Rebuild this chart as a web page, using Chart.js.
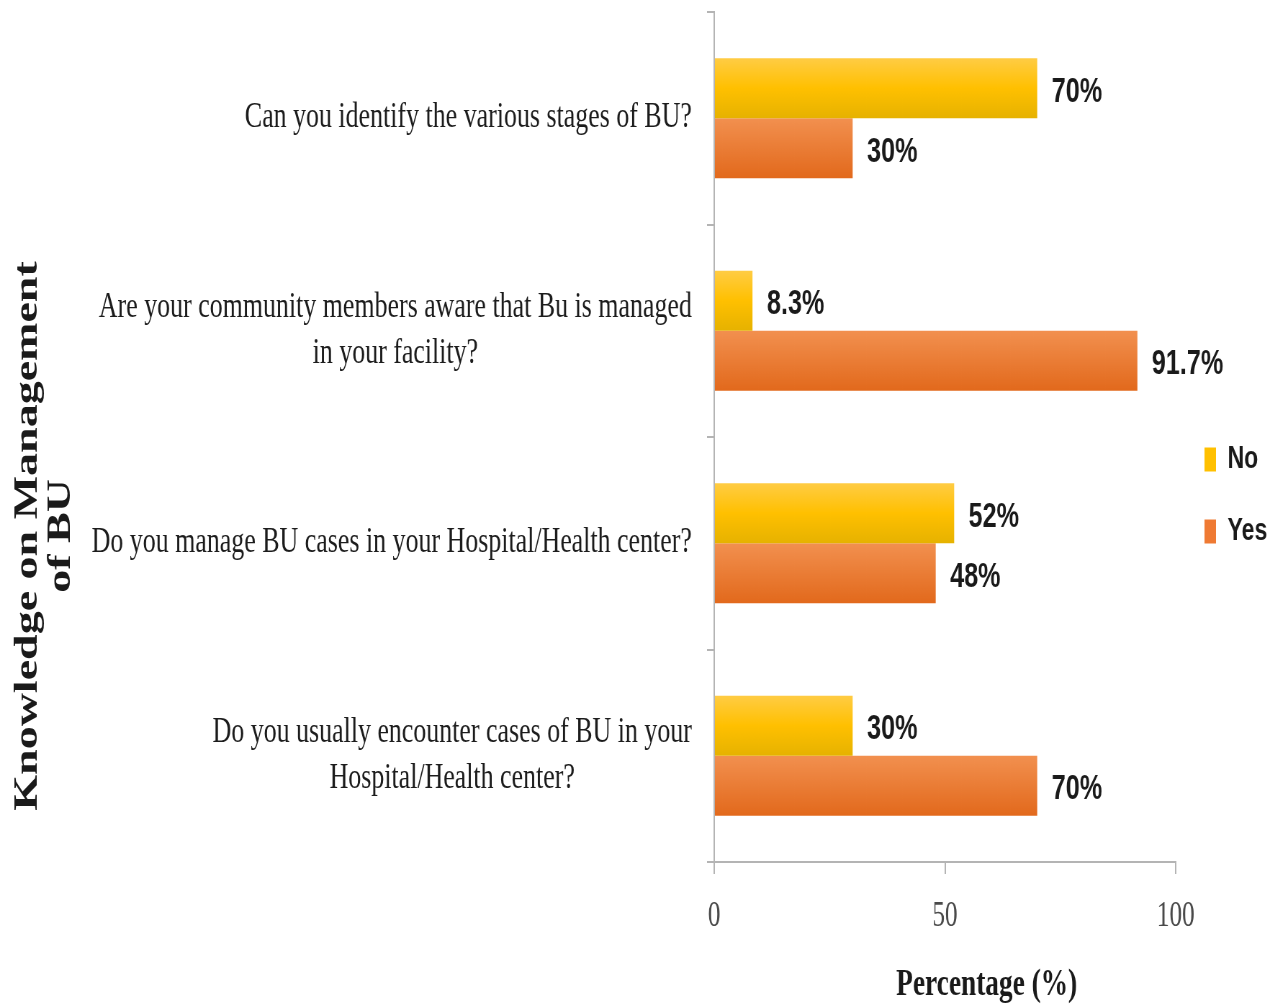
<!DOCTYPE html>
<html>
<head>
<meta charset="utf-8">
<script src="https://cdn.jsdelivr.net/npm/chart.js@4"></script>
<style>
  html, body { margin: 0; padding: 0; background: #fff; overflow: hidden; }
</style>
</head>
<body>
<!-- the reference is squeezed sideways, so draw wide and show it narrow -->
<canvas id="chart" width="1764" height="1005" style="display:block;width:1270px;height:1005px;"></canvas>
<script>
// Knowledge on Management of BU — grouped horizontal bars

const categories = [
    ['Can you identify the various stages of BU?'],
    ['Are your community members aware that Bu is managed', 'in your facility?'],
    ['Do you manage BU cases in your Hospital/Health center?'],
    ['Do you usually encounter cases of BU in your', 'Hospital/Health center?'],
];
const seriesNames = ['No', 'Yes'];
const noValues  = [70, 8.3, 52, 30];
const yesValues = [30, 91.7, 48, 70];
const xTicks = [0, 50, 100];

const SERIF = '"Liberation Serif", "Times New Roman", serif';
const NARROW = '"Liberation Sans Narrow", "Arial Narrow", "Liberation Sans", sans-serif';
const AXIS_GREY = '#b4b4b4';
const CAT_PCT = 0.565;
const LEGEND_FILL = ['#FFC000', '#EF7A33'];

// bar fill: vertical gradient per bar, taken from the y scale
function barFill(stops, solid) {
    return (ctx) => {
        if (ctx.type !== 'data') return solid;
        const ys = ctx.chart.scales.y;
        if (!ys || !isFinite(ys.height)) return solid;
        const c = ys.getPixelForValue(ctx.dataIndex);
        const half = ys.height / categories.length * CAT_PCT / 2;
        const top = ctx.datasetIndex === 0 ? c - half : c;
        const g = ctx.chart.ctx.createLinearGradient(0, top, 0, top + half);
        stops.forEach(([p, col]) => g.addColorStop(p, col));
        return g;
    };
}

const valueLabels = {
    id: 'valueLabels',
    afterDatasetsDraw(chart) {
        const { ctx } = chart;
        ctx.save();
        ctx.font = 'bold 35px ' + NARROW;
        ctx.fillStyle = '#1a1a1a';
        ctx.textAlign = 'left';
        ctx.textBaseline = 'middle';
        chart.data.datasets.forEach((ds, di) => {
            chart.getDatasetMeta(di).data.forEach((bar, i) => {
                ctx.fillText(ds.data[i] + '%', bar.x + 20, bar.y + 4);
            });
        });
        ctx.restore();
    }
};

const axisText = {
    id: 'axisText',
    afterDraw(chart) {
        const { ctx } = chart;
        const ys = chart.scales.y;
        const xs = chart.scales.x;
        ctx.save();

        // category labels: block right-aligned, lines centred inside the block
        ctx.font = '36px ' + SERIF;
        ctx.fillStyle = '#1c1c1c';
        ctx.textAlign = 'center';
        ctx.textBaseline = 'alphabetic';
        const labelRight = ys.right - 31;
        categories.forEach((lines, i) => {
            const c = ys.getPixelForValue(i);
            const w = Math.max(...lines.map(l => ctx.measureText(l).width));
            const cx = labelRight - w / 2;
            lines.forEach((l, k) => {
                ctx.fillText(l, cx, c + (k - (lines.length - 1) / 2) * 46 + 9);
            });
        });

        // x title
        ctx.font = 'bold 38px ' + SERIF;
        ctx.fillStyle = '#1a1a1a';
        ctx.fillText('Percentage (%)', (xs.left + xs.right) / 2 + 58, 995);

        // y title, two lines, rotated
        ctx.font = 'bold 46px ' + SERIF;
        ctx.translate(0, 536);
        ctx.rotate(-Math.PI / 2);
        ctx.fillText('Knowledge on Management', 0, 51);
        ctx.fillText('of BU', 0, 97);
        ctx.restore();
    }
};

new Chart(document.getElementById('chart'), {
    type: 'bar',
    data: {
        labels: categories,
        datasets: [
            {
                label: seriesNames[0],
                data: noValues,
                backgroundColor: barFill([[0, '#FFCC44'], [0.5, '#FFC000'], [1, '#E6B200']], LEGEND_FILL[0]),
                borderWidth: 0,
            },
            {
                label: seriesNames[1],
                data: yesValues,
                backgroundColor: barFill([[0, '#F2904F'], [1, '#E2691C']], LEGEND_FILL[1]),
                borderWidth: 0,
            },
        ]
    },
    options: {
        indexAxis: 'y',
        responsive: false,
        animation: false,
        devicePixelRatio: 1,
        categoryPercentage: CAT_PCT,
        barPercentage: 1,
        layout: { padding: { top: 12, bottom: 26, left: 0, right: 0 } },
        scales: {
            x: {
                min: 0, max: 100,
                afterBuildTicks: (s) => { s.ticks = xTicks.map(v => ({ value: v })); },
                afterFit: (s) => { s.height = 117; },
                grid: { drawOnChartArea: false, color: AXIS_GREY, lineWidth: 2, tickLength: 12 },
                border: { color: AXIS_GREY, width: 2 },
                ticks: { font: { family: SERIF, size: 35 }, color: '#4a4a4a', padding: 22, maxRotation: 0 },
            },
            y: {
                afterFit: (s) => { s.width = 992; },
                grid: { drawOnChartArea: false, color: AXIS_GREY, lineWidth: 2, tickLength: 10 },
                border: { color: AXIS_GREY, width: 2 },
                ticks: { display: false },
            },
        },
        plugins: {
            legend: {
                position: 'right',
                maxWidth: 131,
                labels: {
                    boxWidth: 16,
                    boxHeight: 24,
                    padding: 40,
                    color: '#1a1a1a',
                    font: { family: NARROW, size: 32, weight: 'bold' },
                    generateLabels: (chart) =>
                        Chart.defaults.plugins.legend.labels.generateLabels(chart)
                            .map((item, i) => Object.assign(item, { fillStyle: LEGEND_FILL[i] })),
                }
            },
            tooltip: { enabled: false },
        }
    },
    plugins: [valueLabels, axisText]
});
</script>
</body>
</html>
